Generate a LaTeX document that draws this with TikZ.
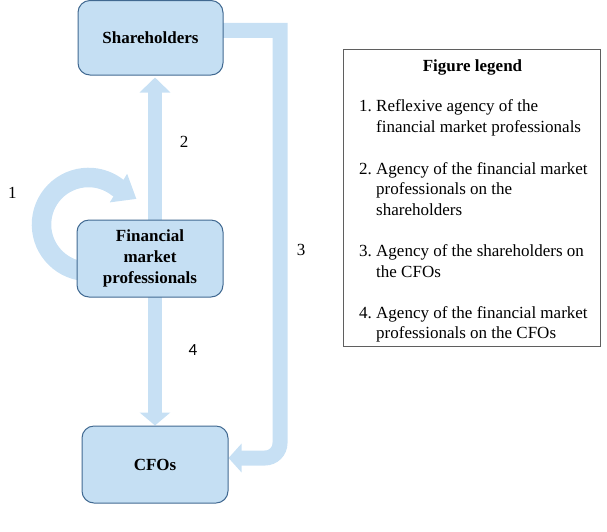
\documentclass[tikz,border=0pt]{standalone}
\usepackage{fontspec}
\setmainfont{Liberation Serif}
\newfontfamily\calfont{Carlito}
\usetikzlibrary{arrows.meta,backgrounds}
\definecolor{boxfill}{RGB}{197,223,243}
\definecolor{boxline}{RGB}{65,105,145}
\definecolor{arrowfill}{RGB}{199,224,244}
\definecolor{legendline}{RGB}{95,95,95}
\tikzset{
  agent/.style={draw=boxline, line width=1pt, fill=boxfill, rounded corners=12pt,
    font=\fontsize{17}{21}\selectfont\bfseries, align=center, inner sep=0pt},
  flow/.style={draw=arrowfill, line width=14.5pt},
  numlabel/.style={font=\fontsize{17}{20}\selectfont, inner sep=0pt},
  legtext/.style={font=\fontsize{17}{20}\selectfont, inner sep=0pt, anchor=base west},
  legbox/.style={draw=legendline, line width=0.8pt, inner sep=0pt},
}
\begin{document}
\begin{tikzpicture}[x=1pt,y=-1pt]
\useasboundingbox (0,0) rectangle (607,531);
% agents
\node[agent, minimum width=145pt, minimum height=74.5pt] (sh) at (150.5,37.75) {Shareholders};
\node[agent, minimum width=146pt, minimum height=77pt] (fmp) at (150,258.5) {Financial\\market\\professionals};
\node[agent, minimum width=146pt, minimum height=77pt] (cfo) at (155,464.5) {CFOs};
\coordinate (loopstart) at (84.4,271.3);
% connectors
\begin{scope}[on background layer]
  \draw[flow, -{Triangle[width=30pt,length=15pt]}]
    ([xshift=5pt]fmp.center) -- ([xshift=4.5pt,yshift=-2pt]sh.south);
  \draw[flow, -{Triangle[width=30pt,length=13pt]}]
    ([xshift=5pt]fmp.center) -- (cfo.north);
  \draw[flow, line width=15pt, -{Triangle[width=28pt,length=13pt]}]
    ([xshift=-2pt,yshift=7.5pt]sh.east) -| (280,443)
    arc[start angle=0, end angle=90, radius=15]
    -- ([yshift=6.5pt]cfo.east);
  \draw[flow, line width=19.5pt, -{Triangle[width=32pt,length=21pt]}]
    (loopstart) arc[start angle=95, end angle=308, radius=47] -- ++(19,11.5);
\end{scope}
% number labels
\node[numlabel] (n1) at (12.5,193) {1};
\node[numlabel] (n2) at (184,142) {2};
\node[numlabel] (n3) at (301,250) {3};
\node[numlabel, font=\fontsize{17}{20}\selectfont\calfont] (n4) at (193,350) {4};
% legend
\node[legbox, minimum width=257pt, minimum height=297pt] (legend) at (471.5,197.5) {};
\node[legtext, anchor=base, font=\fontsize{17}{20}\selectfont\bfseries] (title) at (472.5,71) {Figure legend};
\node[legtext] (i1) at (359,111.5) {1.};
\node[legtext] (t1a) at (376,111.5) {Reflexive agency of the};
\node[legtext] (t1b) at (376,132) {financial market professionals};
\node[legtext] (i2) at (359,174) {2.};
\node[legtext] (t2a) at (376,174) {Agency of the financial market};
\node[legtext] (t2b) at (376,194.5) {professionals on the};
\node[legtext] (t2c) at (376,215) {shareholders};
\node[legtext] (i3) at (359,256) {3.};
\node[legtext] (t3a) at (376,256) {Agency of the shareholders on};
\node[legtext] (t3b) at (376,277) {the CFOs};
\node[legtext] (i4) at (359,318) {4.};
\node[legtext] (t4a) at (376,318) {Agency of the financial market};
\node[legtext] (t4b) at (376,338.5) {professionals on the CFOs};
\end{tikzpicture}
\end{document}
